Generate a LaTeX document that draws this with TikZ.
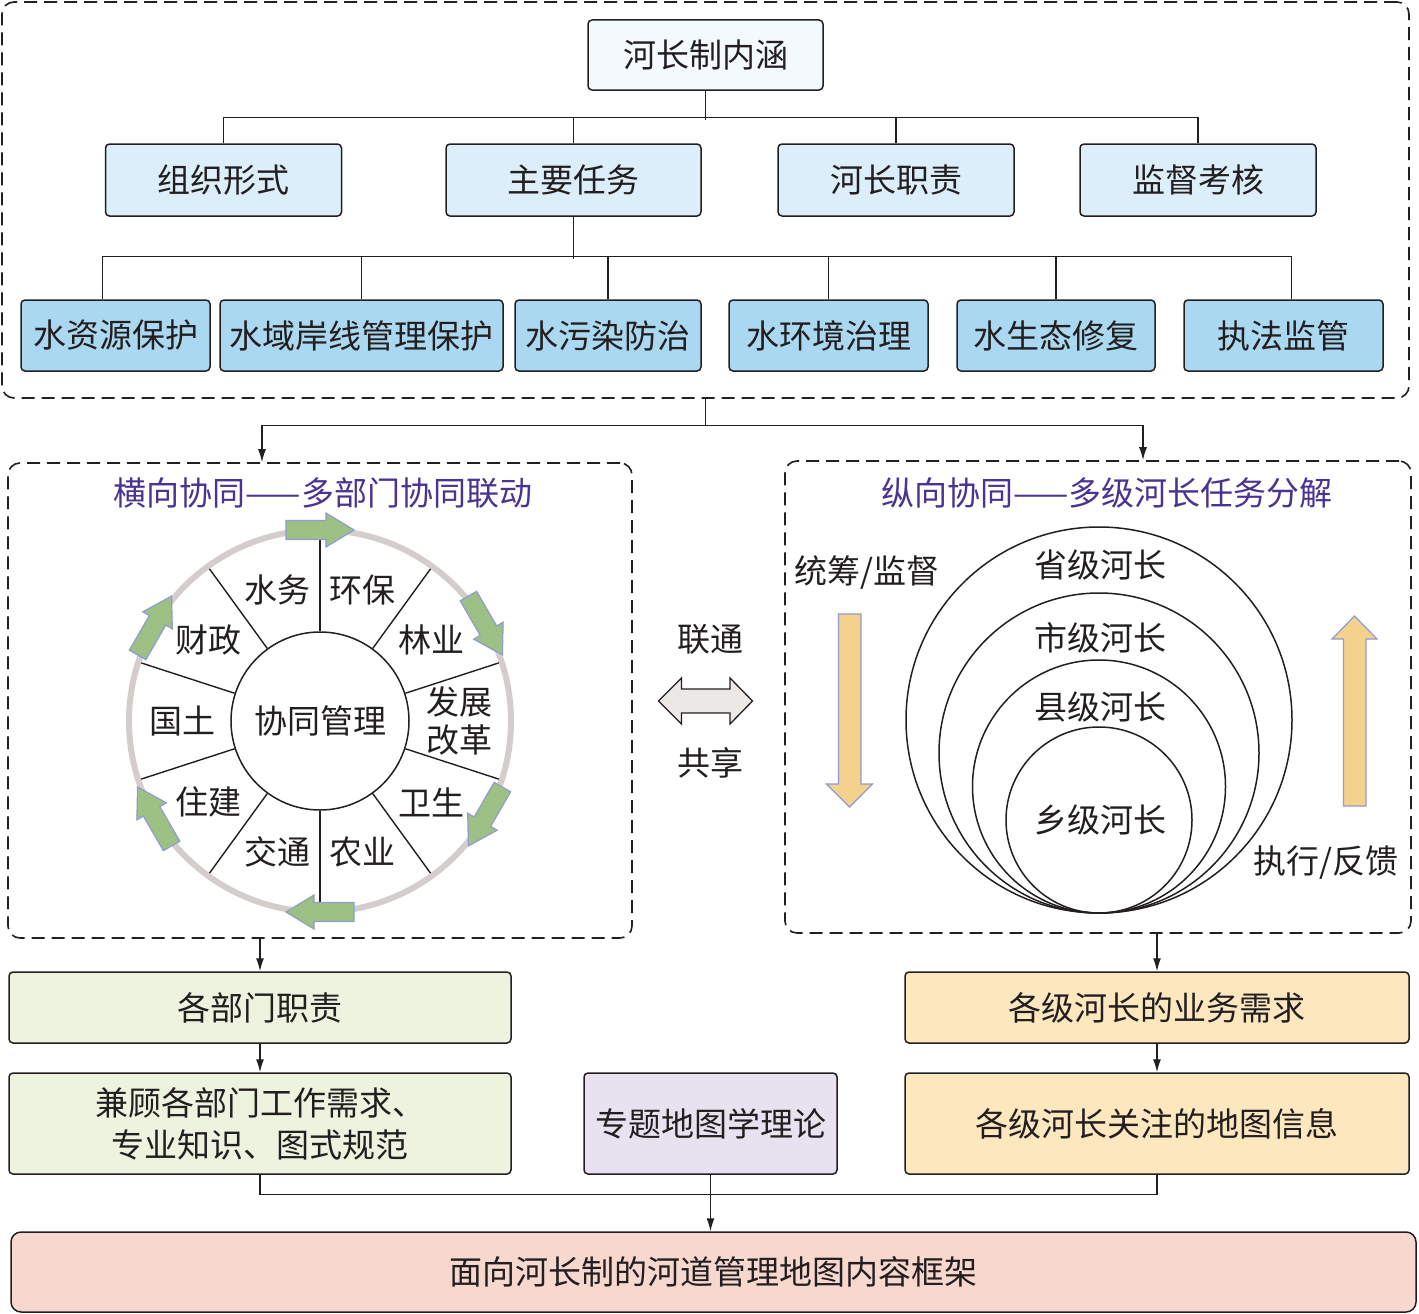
\documentclass[tikz,border=0pt]{standalone}
\usepackage{fontspec}
\newfontfamily\cjk{Noto Sans CJK SC}
\usetikzlibrary{arrows.meta,calc}
\definecolor{topfill}{HTML}{F4F9FE}
\definecolor{midfill}{HTML}{DCEEF9}
\definecolor{lowfill}{HTML}{A9D8F0}
\definecolor{greenfill}{HTML}{EEF3E0}
\definecolor{lilacfill}{HTML}{E8E1EF}
\definecolor{yellowfill}{HTML}{FCE7BF}
\definecolor{pinkfill}{HTML}{F7D8CE}
\definecolor{ringgray}{HTML}{D3CDCC}
\definecolor{arrgreen}{HTML}{9DC184}
\definecolor{arredge}{HTML}{8E9CD0}
\definecolor{arryellow}{HTML}{F5D18E}
\definecolor{dblfill}{HTML}{ECE8E5}
\definecolor{titlepurple}{HTML}{4B3391}
\definecolor{ink}{HTML}{231F20}
\tikzset{
  txt/.style={font=\cjk\fontsize{33}{42}\selectfont, text=ink, inner sep=0pt, align=center},
  box/.style={txt, draw=ink, line width=1.5pt, rounded corners=4pt},
  frame/.style={draw=ink, line width=1.6pt, dash pattern=on 13pt off 7pt, rounded corners=12pt},
  conn/.style={line width=1.3pt, draw=ink},
  arr/.style={conn, -{Latex[length=13pt,width=8pt]}},
  spoke/.style={line width=1.4pt, draw=ink},
  title/.style={txt, text=titlepurple},
  pics/gblock/.style={code={
    \draw[fill=arrgreen, draw=arredge, line width=1.2pt]
      (-34,-9.5) -- (6,-9.5) -- (6,-17) -- (34,0) -- (6,17) -- (6,9.5) -- (-34,9.5) -- cycle;}}
}
\begin{document}
\begin{tikzpicture}[x=1pt,y=-1pt]
\useasboundingbox (0,0) rectangle (1419,1314);
\fill[white] (0,0) rectangle (1419,1314);

% ---------- top frame ----------
\node[frame, minimum width=1407pt, minimum height=396pt] (frame1) at (705.5,200) {};
\node[box, fill=topfill, minimum width=235pt, minimum height=70pt] (top) at (705.5,55) {河长制内涵};

\node[box, fill=midfill, minimum width=236pt, minimum height=72pt] (l2a) at (223.5,180) {组织形式};
\node[box, fill=midfill, minimum width=255pt, minimum height=72pt] (l2b) at (573.5,180) {主要任务};
\node[box, fill=midfill, minimum width=236pt, minimum height=72pt] (l2c) at (896,180) {河长职责};
\node[box, fill=midfill, minimum width=236pt, minimum height=72pt] (l2d) at (1198,180) {监督考核};

\node[box, fill=lowfill, minimum width=189pt, minimum height=71pt] (r1) at (115.5,335.5) {水资源保护};
\node[box, fill=lowfill, minimum width=283pt, minimum height=71pt] (r2) at (361.5,335.5) {水域岸线管理保护};
\node[box, fill=lowfill, minimum width=186pt, minimum height=71pt] (r3) at (608,335.5) {水污染防治};
\node[box, fill=lowfill, minimum width=199pt, minimum height=71pt] (r4) at (828.5,335.5) {水环境治理};
\node[box, fill=lowfill, minimum width=198pt, minimum height=71pt] (r5) at (1056,335.5) {水生态修复};
\node[box, fill=lowfill, minimum width=199pt, minimum height=71pt] (r6) at (1283.5,335.5) {执法监管};

\draw[conn] (top.south) -- ++(0,29);
\draw[conn] (l2a.north) -- ++(0,-26) -| (l2d.north);
\draw[conn] (l2b.north) -- ++(0,-26);
\draw[conn] (l2c.north) -- ++(0,-26);

\draw[conn] (l2b.south) -- ++(0,42);
\draw[conn] ([xshift=-13pt]r1.north) -- ++(0,-43) -| ([xshift=8pt]r6.north);
\draw[conn] (r2.north) -- ++(0,-43);
\draw[conn] (r3.north) -- ++(0,-43);
\draw[conn] (r4.north) -- ++(0,-43);
\draw[conn] (r5.north) -- ++(0,-43);

% ---------- middle frames ----------
\node[frame, minimum width=624pt, minimum height=475pt] (lbox) at (320,700.5) {};
\node[frame, minimum width=626pt, minimum height=472pt] (rbox) at (1098,697) {};

\draw[conn] (frame1.south) -- ++(0,27) coordinate (b3);
\draw[arr] (b3) -| ([xshift=-58pt]lbox.north);
\draw[arr] (b3) -| ([xshift=45pt]rbox.north);

\node[title] (ltitle) at (323,493) {横向协同——多部门协同联动};
\node[title] (rtitle) at (1107,493) {纵向协同——多级河长任务分解};

% ---------- wheel ----------
\coordinate (wc) at (320,721);
\draw[ringgray, line width=6pt] (wc) circle[radius=191];
\node[txt, circle, draw=ink, line width=1.5pt, minimum size=178pt] (core) at (wc) {协同管理};
\foreach \a in {90,54,18,-18,-54,-90,-126,-162,162,126}
  \draw[spoke] (core.\a) -- ($(wc)+(-\a:188)$);
\foreach \a/\t [count=\i] in {108/水务,72/环保,36/林业,-36/卫生,-72/农业,-108/交通,-144/住建,180/国土,144/财政}
  \node[txt] (w\i) at ($(wc)+(-\a:138)$) {\t};
\node[txt, align=center] (w10) at ($(wc)+(0:139)$) {发展\\[-4pt]改革};
\foreach \a in {90,30,-30,-90,-150,150}
  \pic[rotate=\a-90] at ($(wc)+(-\a:191)$) {gblock};

% ---------- link arrow ----------
\draw[fill=dblfill, draw=ink, line width=1.3pt]
  (658.5,701) -- (681.5,678) -- (681.5,689) -- (730,689) -- (730,678) -- (752.5,701)
  -- (730,724) -- (730,713) -- (681.5,713) -- (681.5,724) -- cycle;
\node[txt] (lt) at (710,639) {联通};
\node[txt] (gx) at (710,763) {共享};

% ---------- nested circles ----------
\draw[line width=1.5pt, ink] (1099,720) circle[radius=193];
\draw[line width=1.5pt, ink] (1099,753) circle[radius=160];
\draw[line width=1.5pt, ink] (1099,786.5) circle[radius=126.5];
\draw[line width=1.5pt, ink] (1099,820) circle[radius=93];
\node[txt] (c1) at (1100,565) {省级河长};
\node[txt] (c2) at (1100,638) {市级河长};
\node[txt] (c3) at (1100,707) {县级河长};
\node[txt] (c4) at (1100,820) {乡级河长};

\node[txt] (tc) at (867,573) {统筹/监督};
\node[txt] (zx) at (1326,863) {执行/反馈};
\draw[fill=arryellow, draw=arredge, line width=1.2pt]
  (838.5,614) -- (861,614) -- (861,784) -- (872.5,784) -- (849.5,807) -- (826.5,784) -- (838.5,784) -- cycle;
\draw[fill=arryellow, draw=arredge, line width=1.2pt]
  (1343.5,806) -- (1366,806) -- (1366,639) -- (1377,639) -- (1354.5,616) -- (1332,639) -- (1343.5,639) -- cycle;

% ---------- bottom ----------
\node[box, fill=greenfill, minimum width=502pt, minimum height=71pt] (dept) at (260,1007.5) {各部门职责};
\node[box, fill=greenfill, minimum width=502pt, minimum height=101pt] (combo) at (260,1123.5) {兼顾各部门工作需求、\\[0pt]专业知识、图式规范};
\node[box, fill=lilacfill, minimum width=253pt, minimum height=101pt] (theory) at (710.5,1123.5) {专题地图学理论};
\node[box, fill=yellowfill, minimum width=504pt, minimum height=71pt] (need) at (1157,1007.5) {各级河长的业务需求};
\node[box, fill=yellowfill, minimum width=504pt, minimum height=101pt] (info) at (1157,1123.5) {各级河长关注的地图信息};
\node[box, fill=pinkfill, minimum width=1405pt, minimum height=80pt, rounded corners=10pt] (final) at (713.5,1272) {面向河长制的河道管理地图内容框架};

\draw[arr] (lbox.south -| dept.north) -- (dept.north);
\draw[arr] (dept.south) -- (combo.north);
\draw[arr] (rbox.south -| need.north) -- (need.north);
\draw[arr] (need.south) -- (info.north);
\draw[conn] (combo.south) -- ++(0,20) -| (info.south);
\draw[arr] (theory.south) -- (theory.south |- final.north);
\end{tikzpicture}
\end{document}
